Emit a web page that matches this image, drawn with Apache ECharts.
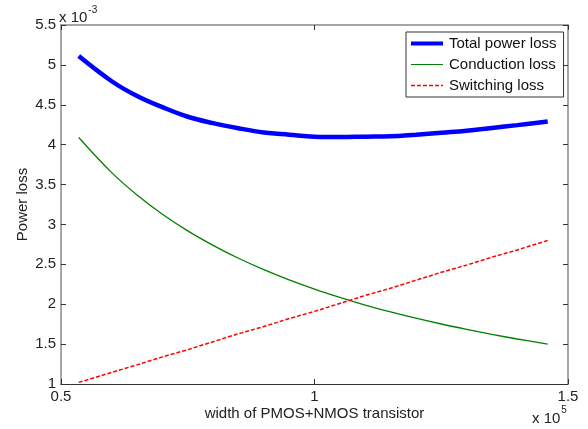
<!DOCTYPE html>
<html>
<head>
<meta charset="utf-8">
<script src="https://cdn.jsdelivr.net/npm/echarts@6/dist/echarts.min.js"></script>
<style>html,body{margin:0;padding:0;background:#fff;}#c{width:588px;height:429px;}</style>
</head>
<body>
<div id="c"></div>
<script>
// width of PMOS+NMOS transistor (x 10^5)
const widths = [0.535, 0.6, 0.65, 0.7, 0.75, 0.8, 0.85, 0.9, 0.95, 1.0, 1.05, 1.1, 1.15, 1.2, 1.25, 1.3, 1.35, 1.4, 1.46];
// power loss (x 10^-3)
const totalLoss = [5.11, 4.795, 4.61, 4.47, 4.35, 4.27, 4.206, 4.153, 4.125, 4.10, 4.096, 4.10, 4.104, 4.125, 4.15, 4.175, 4.21, 4.245, 4.29];
const conductionLoss = [4.09, 3.65, 3.369, 3.128, 2.92, 2.738, 2.576, 2.433, 2.305, 2.19, 2.086, 1.99, 1.904, 1.825, 1.752, 1.685, 1.622, 1.564, 1.50];
const switchingLoss = [1.02, 1.145, 1.24, 1.34, 1.43, 1.53, 1.63, 1.72, 1.82, 1.91, 2.01, 2.11, 2.20, 2.30, 2.40, 2.49, 2.59, 2.68, 2.80];
const seriesNames = ['Total power loss', 'Conduction loss', 'Switching loss'];

const pairs = ys => widths.map((x, i) => [x, ys[i]]);
const FONT = 'Liberation Sans, Arial, sans-serif';
const FS = 15;
const chart = echarts.init(document.getElementById('c'));
const axisBase = {
  type: 'value',
  splitLine: { show: false },
  axisTick: { show: true, inside: true, length: 5, lineStyle: { color: '#333' } },
  axisLabel: { color: '#222', fontSize: FS, fontFamily: FONT }
};
// legend icons: tiny guide dots at the corners keep the icon box 32x14
const guard = 'M0,0H0.01V0.01H0Z M31.99,13.99H32V14H31.99Z ';
const icons = [
  'path://' + guard + 'M0,5H32V9H0Z',
  'path://' + guard + 'M0,6.4H32V7.6H0Z',
  'path://' + guard + 'M0,6.3H4V7.7H0Z M6,6.3H10V7.7H6Z M12,6.3H16V7.7H12Z M18,6.3H22V7.7H18Z M24,6.3H28V7.7H24Z M30,6.3H32V7.7H30Z'
];
const colors = ['#0000ff', '#008000', '#ff0000'];
chart.setOption({
  animation: false,
  grid: { left: 61, right: 20, top: 25, bottom: 45 },
  xAxis: [
    Object.assign({}, axisBase, {
      min: 0.5, max: 1.5, interval: 0.5, position: 'bottom',
      axisLine: { lineStyle: { color: '#333', width: 1 } },
      axisLabel: Object.assign({}, axisBase.axisLabel, { margin: 5 }),
      name: 'width of PMOS+NMOS transistor', nameLocation: 'middle', nameGap: 22, nameMoveOverlap: false,
      nameTextStyle: { color: '#222', fontSize: FS, fontFamily: FONT }
    }),
    Object.assign({}, axisBase, {
      min: 0.5, max: 1.5, interval: 0.5, position: 'top',
      axisLine: { lineStyle: { color: '#888', width: 1.5 } },
      axisLabel: { show: false }
    })
  ],
  yAxis: [
    Object.assign({}, axisBase, {
      min: 1, max: 5.5, interval: 0.5, position: 'left',
      axisLine: { show: true, lineStyle: { color: '#888', width: 1.5 } },
      axisLabel: Object.assign({}, axisBase.axisLabel, { margin: 5 }),
      name: 'Power loss', nameLocation: 'middle', nameGap: 31, nameMoveOverlap: false,
      nameTextStyle: { color: '#222', fontSize: FS, fontFamily: FONT }
    }),
    Object.assign({}, axisBase, {
      min: 1, max: 5.5, interval: 0.5, position: 'right',
      axisLine: { show: true, lineStyle: { color: '#888', width: 1.5 } },
      axisLabel: { show: false }
    })
  ],
  legend: {
    orient: 'vertical', left: 406, top: 32,
    data: seriesNames.map((n, i) => ({ name: n, icon: icons[i], itemStyle: { color: colors[i] } })),
    itemWidth: 32, itemHeight: 14, itemGap: 6,
    padding: [4, 7, 4, 5],
    borderColor: '#333', borderWidth: 1, backgroundColor: '#fff',
    textStyle: { color: '#111', fontSize: FS, lineHeight: 14, fontFamily: FONT, padding: [0, 0, 0, 1] }
  },
  graphic: [
    { type: 'text', left: 59, top: 5, style: {
      text: '{a|x 10}{b|-3}', rich: {
        a: { fontSize: FS, fontFamily: FONT, fill: '#222', padding: [5, 0, 0, 0] },
        b: { fontSize: 10, fontFamily: FONT, fill: '#222', verticalAlign: 'top', padding: [0, 0, 0, 1] }
      } } },
    { type: 'text', left: 532, top: 405, style: {
      text: '{a|x 10}{b|5}', rich: {
        a: { fontSize: FS, fontFamily: FONT, fill: '#222', padding: [6, 0, 0, 0] },
        b: { fontSize: 10, fontFamily: FONT, fill: '#222', verticalAlign: 'top', padding: [0, 0, 0, 1] }
      } } }
  ],
  series: [
    { name: seriesNames[0], type: 'line', data: pairs(totalLoss), showSymbol: false, symbol: 'none', smooth: 0.4,
      lineStyle: { color: colors[0], width: 4.5 }, itemStyle: { color: colors[0] }, z: 3 },
    { name: seriesNames[1], type: 'line', data: pairs(conductionLoss), showSymbol: false, symbol: 'none', smooth: 0.4,
      lineStyle: { color: colors[1], width: 1.3 }, itemStyle: { color: colors[1] }, z: 2 },
    { name: seriesNames[2], type: 'line', data: pairs(switchingLoss), showSymbol: false, symbol: 'none',
      lineStyle: { color: colors[2], width: 1.5, type: [4, 2] }, itemStyle: { color: colors[2] }, z: 2 }
  ]
});
</script>
</body>
</html>
